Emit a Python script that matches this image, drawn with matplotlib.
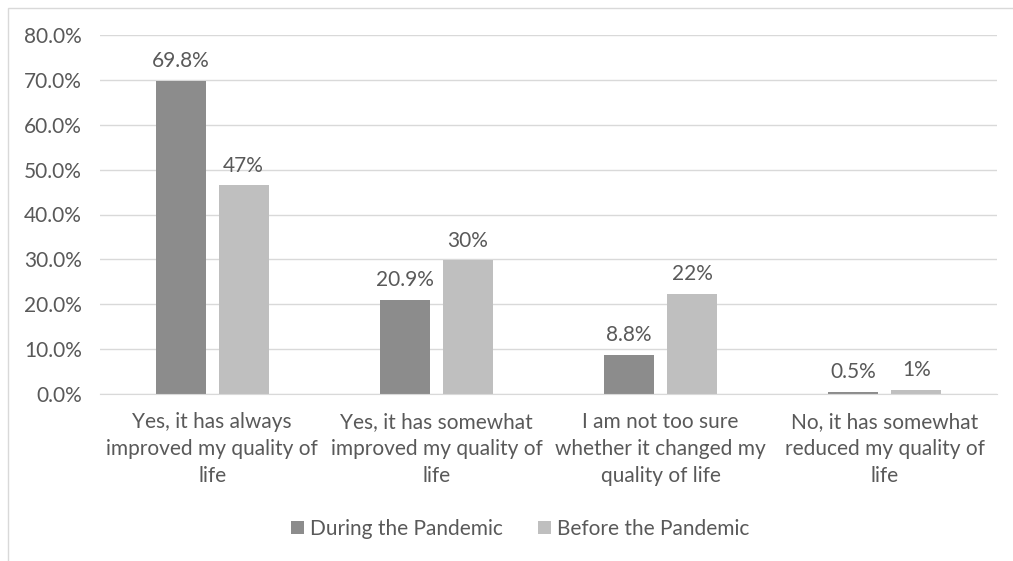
import numpy as np
import matplotlib.pyplot as plt
from matplotlib.patches import Rectangle

plt.rcParams["font.family"] = ["Lato", "DejaVu Sans"]

categories = [
    "Yes, it has always\nimproved my quality of\nlife",
    "Yes, it has somewhat\nimproved my quality of\nlife",
    "I am not too sure\nwhether it changed my\nquality of life",
    "No, it has somewhat\nreduced my quality of\nlife",
]
during = [69.8, 20.9, 8.8, 0.5]
before = [46.5, 29.8, 22.3, 1.0]
during_labels = ["69.8%", "20.9%", "8.8%", "0.5%"]
before_labels = ["47%", "30%", "22%", "1%"]
yticks = [0, 10, 20, 30, 40, 50, 60, 70, 80]

TEXT = "#595959"
DARK = "#8c8c8c"
LIGHT = "#bfbfbf"

fig = plt.figure(figsize=(10.13, 5.61), dpi=100)
fig.patches.append(Rectangle((8 / 1013, -0.1), 1.2, (561 - 8) / 561 + 0.1,
                             transform=fig.transFigure, fill=False,
                             edgecolor="#d9d9d9", linewidth=1))
ax = fig.add_axes([100 / 1013, 1 - 394 / 561, (997 - 100) / 1013, (394 - 35) / 561])

x = np.arange(len(categories))
w = 0.223
off = 0.28
b1 = ax.bar(x - off / 2, during, w, color=DARK, label="During the Pandemic")
b2 = ax.bar(x + off / 2, before, w, color=LIGHT, label="Before the Pandemic")

for bars, labels in [(b1, during_labels), (b2, before_labels)]:
    for rect, lab in zip(bars, labels):
        ax.annotate(lab, (rect.get_x() + rect.get_width() / 2, rect.get_height()),
                    xytext=(0, 7), textcoords="offset points",
                    ha="center", va="bottom", fontsize=15, color=TEXT)

ax.set_xlim(-0.5, len(categories) - 0.5)
ax.set_ylim(0, 80)
ax.set_yticks(yticks)
ax.set_yticklabels([f"{v:.1f}%" for v in yticks])
ax.set_xticks(x)
ax.set_xticklabels(categories, fontsize=15, color=TEXT, linespacing=1.45)
ax.tick_params(axis="y", labelsize=15, labelcolor=TEXT, length=0, pad=13)
ax.tick_params(axis="x", length=0, pad=13)
ax.grid(axis="y", color="#d9d9d9", linewidth=1)
ax.set_axisbelow(True)
for s in ["top", "right", "left"]:
    ax.spines[s].set_visible(False)
ax.spines["bottom"].set_color("#d9d9d9")

fig.legend(handles=[b1, b2], loc="center", bbox_to_anchor=(0.5135, 1 - 529 / 561),
           ncol=2, frameon=False, fontsize=15, labelcolor=TEXT,
           handlelength=0.62, handleheight=0.62, columnspacing=1.7, handletextpad=0.3)

fig.savefig("out.png", dpi=100, facecolor="white")
